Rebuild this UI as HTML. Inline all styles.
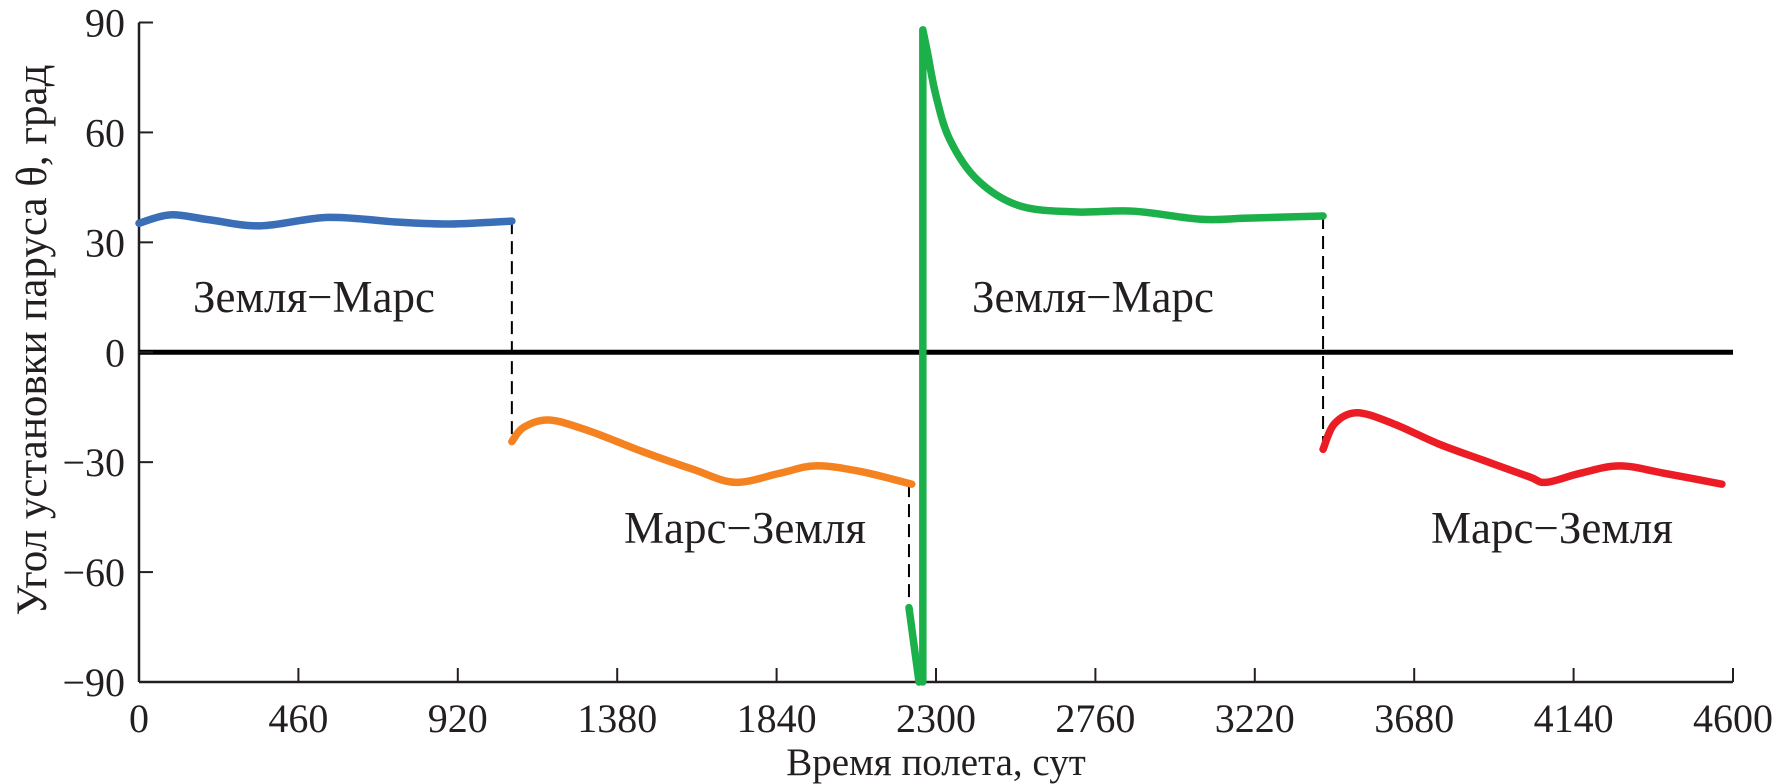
<!DOCTYPE html>
<html><head><meta charset="utf-8"><style>
html,body{margin:0;padding:0;background:#fff;}
svg{display:block;font-family:"Liberation Serif",serif;}
</style></head><body>
<svg id="chart" width="1776" height="784" viewBox="0 0 1776 784" xmlns="http://www.w3.org/2000/svg">
<g id="axes"></g>
<g id="series"></g>
<text x="936" y="775" font-size="39" text-anchor="middle" fill="#231f20">Время полета, сут</text>
<text transform="translate(46,340) rotate(-90)" font-size="43" text-anchor="middle" fill="#231f20">Угол установки паруса θ, град</text>
<text x="314" y="312" font-size="45" text-anchor="middle" fill="#231f20">Земля−Марс</text>
<text x="1093" y="312" font-size="45" text-anchor="middle" fill="#231f20">Земля−Марс</text>
<text x="745" y="543" font-size="45" text-anchor="middle" fill="#231f20">Марс−Земля</text>
<text x="1552" y="543" font-size="45" text-anchor="middle" fill="#231f20">Марс−Земля</text>
</svg>
<script>
const xTicks = [0,460,920,1380,1840,2300,2760,3220,3680,4140,4600];
const yTicks = [90,60,30,0,-30,-60,-90];
const blueT = [0,90,200,350,546,750,900,1076];
const blueV = [35.2,37.5,36.2,34.5,36.8,35.5,35.0,35.8];
const orangeT = [1076,1110,1184,1300,1450,1600,1720,1850,1952,2080,2230];
const orangeV = [-24.4,-20.5,-18.5,-21.5,-27,-32,-35.5,-33,-31,-32.5,-36];
const greenDropT = [2222,2251];
const greenDropV = [-69.7,-90];
const greenT = [2262,2262,2275,2300,2340,2420,2540,2700,2870,3064,3200,3417];
const greenV = [-90,88,82,70,58,47,40,38.3,38.5,36.3,36.6,37.2];
const redT = [3417,3450,3515,3620,3750,3880,4012,4061,4160,4273,4400,4568];
const redV = [-26.5,-19.5,-16.5,-19.5,-25,-29.5,-34,-35.5,-33,-31,-33,-36];
const dashT = [1076,2222,3417];
const dashFrom = [35.8,-36,37.2];
const dashTo = [-24.4,-69.7,-26.5];

const X0=139,X1=1733,Y0=22.5,Y1=682;
const xs=t=>X0+(t/4600)*(X1-X0);
const ys=v=>Y0+(90-v)/180*(Y1-Y0);
const NS='http://www.w3.org/2000/svg';
const axes=document.getElementById('axes');
const series=document.getElementById('series');
function mk(tag,attrs,parent){const e=document.createElementNS(NS,tag);for(const k in attrs)e.setAttribute(k,attrs[k]);parent.appendChild(e);return e;}

let e;
e=mk('line',{x1:X0,y1:Y0,x2:X0,y2:Y1,stroke:'#231f20','stroke-width':2.5},axes);


e=mk('line',{x1:X0,y1:Y1,x2:X1,y2:Y1,stroke:'#231f20','stroke-width':2.5},axes);


e=mk('line',{x1:X0,y1:ys(0),x2:X1,y2:ys(0),stroke:'#000','stroke-width':5},axes);


xTicks.forEach(t=>{
  const l=mk('line',{x1:xs(t),y1:Y1,x2:xs(t),y2:Y1-14,stroke:'#231f20','stroke-width':2},axes);
  
  
  const tx=mk('text',{x:xs(t),y:Y1+50,'font-size':40,'text-anchor':'middle',fill:'#231f20'},axes);
  tx.textContent=String(t);
  
  
});
yTicks.forEach(v=>{
  const l=mk('line',{x1:X0,y1:ys(v),x2:X0+14,y2:ys(v),stroke:'#231f20','stroke-width':2},axes);
  
  
  const tx=mk('text',{x:X0-14,y:ys(v)+14,'font-size':40,'text-anchor':'end',fill:'#231f20'},axes);
  tx.textContent=(v<0?'−':'')+Math.abs(v);
  
  
});

function smoothPath(T,V){
  const p=T.map((t,i)=>[xs(t),ys(V[i])]);
  let d='M'+p[0][0]+','+p[0][1];
  for(let i=0;i<p.length-1;i++){
    let p0=p[Math.max(i-1,0)],p1=p[i],p2=p[i+1],p3=p[Math.min(i+2,p.length-1)];
    if(Math.abs(p1[0]-p2[0])<0.5){d+=' L'+p2[0]+','+p2[1];continue;}
    if(Math.abs(p0[0]-p1[0])<0.5)p0=p1;
    if(Math.abs(p3[0]-p2[0])<0.5)p3=p2;
    const c1=[p1[0]+(p2[0]-p0[0])/6,p1[1]+(p2[1]-p0[1])/6];
    const c2=[p2[0]-(p3[0]-p1[0])/6,p2[1]-(p3[1]-p1[1])/6];
    d+=` C${c1[0]},${c1[1]} ${c2[0]},${c2[1]} ${p2[0]},${p2[1]}`;
  }
  return d;
}
dashT.forEach((t,i)=>{
  const l=mk('line',{x1:xs(t),y1:ys(dashFrom[i]),x2:xs(t),y2:ys(dashTo[i]),stroke:'#000','stroke-width':2,'stroke-dasharray':'13,7'},series);
  
  
});
const defs=[[blueT,blueV,'#3a6fb8','series-earth-mars-1'],[orangeT,orangeV,'#f58220','series-mars-earth-1'],[greenDropT,greenDropV,'#1bb04a','series-transition-drop'],[greenT,greenV,'#1bb04a','series-earth-mars-2'],[redT,redV,'#ec1c24','series-mars-earth-2']];
defs.forEach(s=>{
  const p=mk('path',{d:smoothPath(s[0],s[1]),fill:'none',stroke:s[2],'stroke-width':7.5,'stroke-linecap':'round','stroke-linejoin':'round'},series);
  
  
});
</script>
</body></html>
